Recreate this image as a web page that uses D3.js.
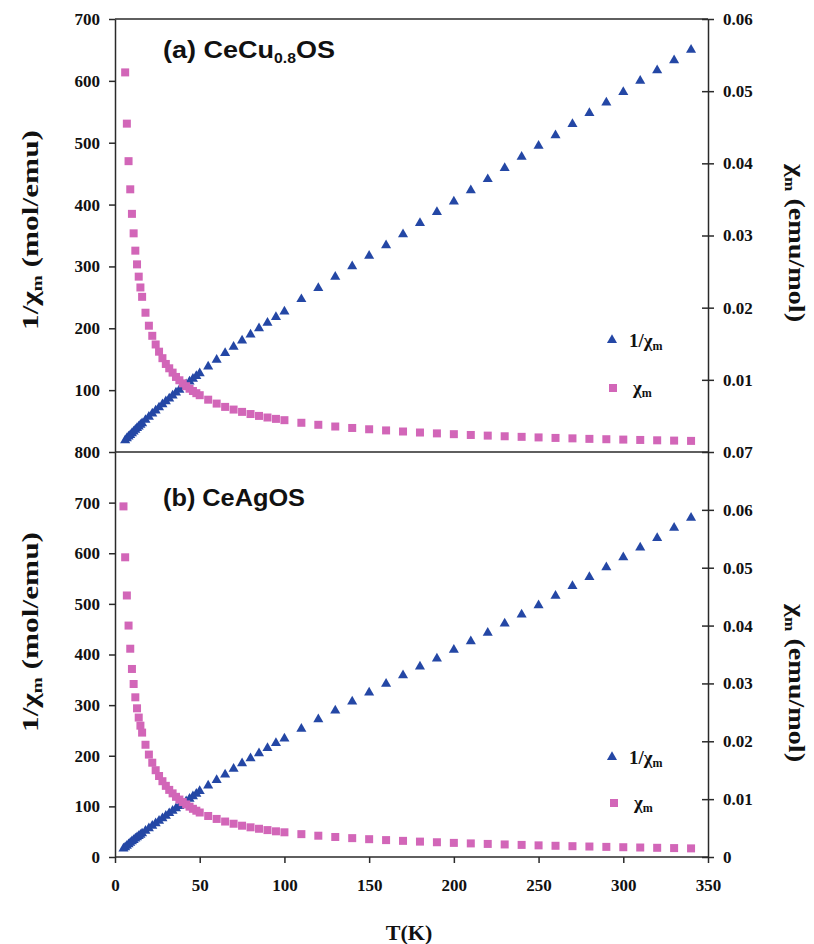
<!DOCTYPE html>
<html><head><meta charset="utf-8">
<script src="https://cdn.jsdelivr.net/npm/d3@7"></script>
<style>
html,body{margin:0;padding:0;background:#fff;}
svg{display:block;}
.tick text{font-family:"Liberation Serif","Times New Roman",serif;font-weight:bold;font-size:17px;fill:#111;}
</style></head>
<body>
<script>
// ---------- DATA ----------
const tempA = [6,7,8,9,10,11,12,13,14,15,16,18,20,22,24,26,28,30,32,34,36,38,40,42,44,46,48,50,55,60,65,70,75,80,85,90,95,100,110,120,130,140,150,160,170,180,190,200,210,220,230,240,250,260,270,280,290,300,310,320,330,340];
const invChiA = [19.0,22.0,24.8,27.5,30.3,33.0,35.8,38.5,41.2,43.9,46.5,51.8,57.0,62.0,67.0,72.0,77.0,81.8,86.5,91.2,96.0,100.6,105.2,109.6,114.0,118.4,122.7,127.0,138,149,160,170,180,190,200,209,218,227,247,265,283,300,317,334,352,370,388,405,423,441,459,477,495,512,530,548,565,582,600,617,633,650];
const chiA = [0.0526,0.0455,0.0403,0.0364,0.0330,0.0303,0.0279,0.0260,0.0243,0.0228,0.0215,0.0193,0.0175,0.0161,0.0149,0.0139,0.0130,0.0122,0.0116,0.0110,0.0104,0.00994,0.00951,0.00912,0.00877,0.00845,0.00815,0.00787,0.00725,0.00671,0.00625,0.00588,0.00556,0.00526,0.00500,0.00478,0.00459,0.00441,0.00405,0.00377,0.00353,0.00333,0.00315,0.00299,0.00284,0.00270,0.00258,0.00247,0.00236,0.00227,0.00218,0.00210,0.00202,0.00195,0.00189,0.00182,0.00177,0.00172,0.00167,0.00162,0.00158,0.00154];

const tempB = [5,6,7,8,9,10,11,12,13,14,15,16,18,20,22,24,26,28,30,32,34,36,38,40,42,44,46,48,50,55,60,65,70,75,80,85,90,95,100,110,120,130,140,150,160,170,180,190,200,210,220,230,240,250,260,270,280,290,300,310,320,330,340];
const invChiB = [16.5,19.3,22.1,25.0,27.8,30.8,33.4,36.2,38.9,41.5,44.0,46.5,51.5,56.5,61.5,66.5,71.5,76.5,81.5,86.5,91.2,96.0,100.7,105.4,110.0,115.0,120.0,125.0,130.0,141,152,163,174,185,195,205,215,225,234,253,272,289,307,325,342,359,376,392,409,426,443,461,479,497,516,535,553,572,592,611,630,650,670];
const chiB = [0.0606,0.0518,0.0452,0.0400,0.0360,0.0325,0.0299,0.0276,0.0257,0.0241,0.0227,0.0215,0.0194,0.0177,0.0163,0.0150,0.0140,0.0131,0.0123,0.0116,0.0110,0.0104,0.00993,0.00949,0.00909,0.00870,0.00833,0.00800,0.00769,0.00709,0.00658,0.00613,0.00575,0.00541,0.00513,0.00488,0.00465,0.00444,0.00427,0.00395,0.00368,0.00346,0.00326,0.00308,0.00292,0.00279,0.00266,0.00255,0.00244,0.00235,0.00226,0.00217,0.00209,0.00201,0.00194,0.00187,0.00181,0.00175,0.00169,0.00164,0.00159,0.00154,0.00149];

const xTicks = [0,50,100,150,200,250,300,350];
const leftTicksA = [100,200,300,400,500,600,700];
const rightTicksA = [0.01,0.02,0.03,0.04,0.05,0.06];
const leftTicksB = [0,100,200,300,400,500,600,700,800];
const rightTicksB = [0,0.01,0.02,0.03,0.04,0.05,0.06,0.07];

// ---------- LAYOUT ----------
const W = 814, H = 944;
const X0 = 115, X1 = 708;
const topA = 19, botA = 452, topB = 452, botB = 857;
const BLUE = "#2447a5", PINK = "#d266b8", AX = "#2a2a2a";
const SERIF = '"Liberation Serif","Times New Roman",serif';
const SANS = '"Liberation Sans",Arial,sans-serif';

const svg = d3.select("body").append("svg").attr("width", W).attr("height", H);

const x = d3.scaleLinear().domain([0,350]).range([X0,X1]);
const yLA = d3.scaleLinear().domain([0,700]).range([botA,topA]);
const yRA = d3.scaleLinear().domain([0,0.06]).range([botA,topA]);
const yLB = d3.scaleLinear().domain([0,800]).range([botB,topB]);
const yRB = d3.scaleLinear().domain([0,0.07]).range([botB,topB]);

const fmtR = d => d === 0 ? "0" : d.toFixed(2);

function styleAxis(g){
  g.selectAll("path.domain").attr("stroke", AX).attr("stroke-width", 1.5);
  g.selectAll(".tick line").attr("stroke", AX).attr("stroke-width", 1.5);
}

function panel(T, inv, chi, yL, yR, lt, rt, top, bot, o){
  const gl = svg.append("g").attr("transform", `translate(${X0},0)`)
    .call(d3.axisLeft(yL).tickValues(lt).tickFormat(d3.format("d")).tickSizeInner(6).tickSizeOuter(0).tickPadding(9));
  styleAxis(gl);
  const gr = svg.append("g").attr("transform", `translate(${X1},0)`)
    .call(d3.axisRight(yR).tickValues(rt).tickFormat(fmtR).tickSizeInner(6).tickSizeOuter(0).tickPadding(9));
  styleAxis(gr);
  gr.selectAll(".tick line").attr("x1", -6).attr("x2", 6);
  svg.append("line").attr("x1", X0).attr("x2", X1).attr("y1", bot).attr("y2", bot)
    .attr("stroke", AX).attr("stroke-width", 1.5);

  const tri = d3.symbol(d3.symbolTriangle, 44);
  svg.append("g").selectAll("path").data(T.map((t,i)=>({t, v:inv[i]}))).join("path")
    .attr("d", tri).attr("fill", BLUE)
    .attr("transform", d => `translate(${x(d.t)},${yL(d.v)})`);
  svg.append("g").selectAll("rect").data(T.map((t,i)=>({t, v:chi[i]}))).join("rect")
    .attr("x", d => x(d.t) - 4).attr("y", d => yR(d.v) - 4)
    .attr("width", 8).attr("height", 8).attr("fill", PINK);

  // legend
  svg.append("path").attr("d", tri).attr("fill", BLUE)
    .attr("transform", `translate(${o.tx},${o.ty})`);
  const t1 = svg.append("text").attr("x", o.tx + 17).attr("y", o.ty + 7)
    .attr("font-family", SERIF).attr("font-weight", "bold").attr("font-size", 19).attr("fill", "#111");
  t1.append("tspan").text("1/χ");
  t1.append("tspan").text("m").attr("font-size", 12).attr("dy", 3);
  svg.append("rect").attr("x", o.sx - 4).attr("y", o.sy - 4).attr("width", 8).attr("height", 8).attr("fill", PINK);
  const t2 = svg.append("text").attr("x", o.sx + 20).attr("y", o.sy + 6)
    .attr("font-family", SERIF).attr("font-weight", "bold").attr("font-size", 19).attr("fill", "#111");
  t2.append("tspan").text("χ");
  t2.append("tspan").text("m").attr("font-size", 12).attr("dy", 3);

  // y titles
  const lt1 = svg.append("text").attr("transform", `translate(38,${o.cyL}) rotate(-90)`)
    .attr("text-anchor", "middle").attr("font-family", SERIF).attr("font-weight", "bold")
    .attr("font-size", 23).attr("fill", "#111")
    .attr("textLength", 200).attr("lengthAdjust", "spacingAndGlyphs");
  lt1.append("tspan").text("1/χ");
  lt1.append("tspan").text("m").attr("font-size", 14).attr("dy", 4);
  lt1.append("tspan").text(" (mol/emu)").attr("dy", -4);
  const rt1 = svg.append("text").attr("transform", `translate(789,${o.cyR}) rotate(90)`)
    .attr("text-anchor", "middle").attr("font-family", SERIF).attr("font-weight", "bold")
    .attr("font-size", 23).attr("fill", "#111")
    .attr("textLength", 158).attr("lengthAdjust", "spacingAndGlyphs");
  rt1.append("tspan").text("χ");
  rt1.append("tspan").text("m").attr("font-size", 14).attr("dy", 4);
  rt1.append("tspan").text(" (emu/mol)").attr("dy", -4);
}

svg.append("line").attr("x1", X0).attr("x2", X1).attr("y1", topA).attr("y2", topA)
  .attr("stroke", AX).attr("stroke-width", 1.5);

panel(tempA, invChiA, chiA, yLA, yRA, leftTicksA, rightTicksA, topA, botA,
  {tx:612, ty:340, sx:613, sy:388, cyL:230, cyR:243});
panel(tempB, invChiB, chiB, yLB, yRB, leftTicksB, rightTicksB, topB, botB,
  {tx:612, ty:757, sx:614, sy:803, cyL:632, cyR:683});

const gx = svg.append("g").attr("transform", `translate(0,${botB})`)
  .call(d3.axisBottom(x).tickValues(xTicks).tickFormat(d3.format("d")).tickSizeInner(6).tickSizeOuter(0).tickPadding(16));
styleAxis(gx);
gx.select("path.domain").remove();

svg.append("text").attr("x", 409).attr("y", 940).attr("text-anchor", "middle")
  .attr("font-family", SERIF).attr("font-weight", "bold").attr("font-size", 22).attr("fill", "#111")
  .text("T(K)");

// panel titles
const ta = svg.append("text").attr("x", 163).attr("y", 58)
  .attr("font-family", SANS).attr("font-weight", "bold").attr("font-size", 24).attr("fill", "#111")
  .attr("textLength", 172).attr("lengthAdjust", "spacingAndGlyphs");
ta.append("tspan").text("(a) CeCu");
ta.append("tspan").text("0.8").attr("font-size", 14).attr("dy", 5);
ta.append("tspan").text("OS").attr("dy", -5);
svg.append("text").attr("x", 163).attr("y", 506)
  .attr("font-family", SANS).attr("font-weight", "bold").attr("font-size", 24).attr("fill", "#111")
  .attr("textLength", 142).attr("lengthAdjust", "spacingAndGlyphs")
  .text("(b) CeAgOS");
</script>
</body></html>
